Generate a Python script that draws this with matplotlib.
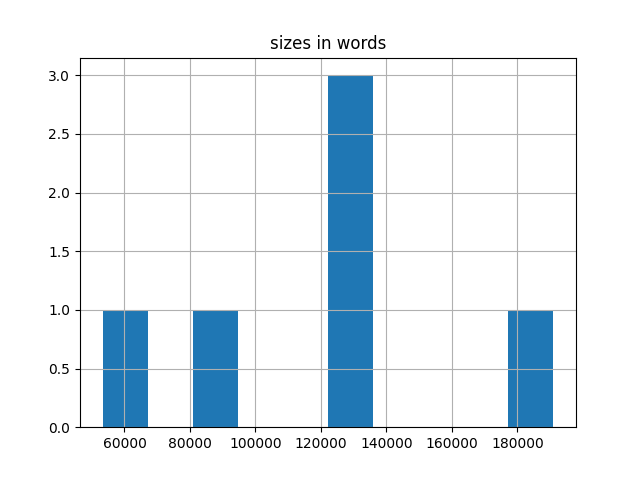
import numpy as np
import pandas as pd
import matplotlib
matplotlib.use("Agg")
import matplotlib.pyplot as plt

# word counts per document
sizes = [53300, 88000, 125000, 128500, 132000, 191000]

df = pd.DataFrame({"sizes in words": sizes})

fig, ax = plt.subplots(figsize=(6.4, 4.8), dpi=100)
df.hist(column="sizes in words", bins=10, ax=ax)
fig.savefig("out.png")
